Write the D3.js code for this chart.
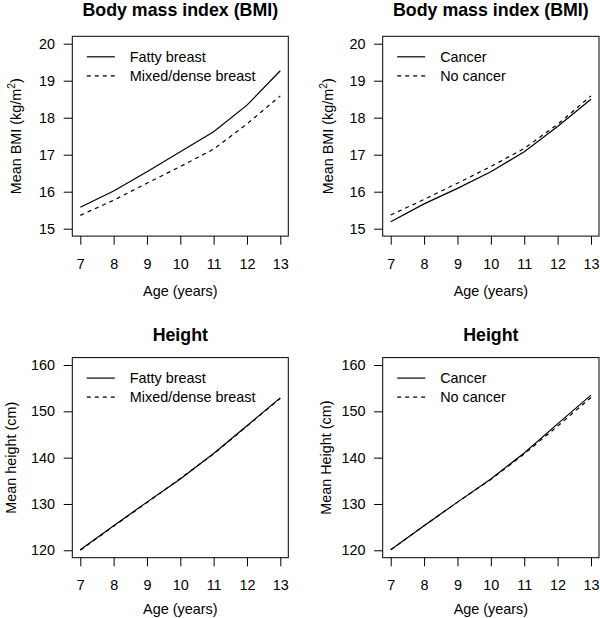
<!DOCTYPE html>
<html><head><meta charset="utf-8">
<script src="https://cdn.jsdelivr.net/npm/d3@7"></script>
<style>
html,body{margin:0;padding:0;background:#fff;}
svg text{font-family:"Liberation Sans",Arial,Helvetica,sans-serif;fill:#000;}
</style>
</head><body>
<svg id="chart" width="600" height="618"></svg>
<script>
const ages = [7, 8, 9, 10, 11, 12, 13];
const bmiFatty    = [15.58, 16.02, 16.54, 17.08, 17.62, 18.34, 19.27];
const bmiDense    = [15.36, 15.77, 16.23, 16.68, 17.15, 17.83, 18.59];
const bmiCancer   = [15.19, 15.67, 16.09, 16.54, 17.08, 17.76, 18.50];
const bmiNoCancer = [15.37, 15.79, 16.23, 16.68, 17.17, 17.82, 18.59];
const hFatty    = [120.1, 125.3, 130.4, 135.4, 140.9, 146.9, 152.9];
const hDense    = [120.0, 125.2, 130.3, 135.5, 140.8, 146.8, 152.8];
const hCancer   = [120.1, 125.3, 130.4, 135.4, 141.0, 147.3, 153.5];
const hNoCancer = [120.1, 125.3, 130.4, 135.3, 140.8, 146.8, 153.0];
const bmiTicks = [15, 16, 17, 18, 19, 20];
const heightTicks = [120, 130, 140, 150, 160];
const ageTicks = [7, 8, 9, 10, 11, 12, 13];

const svg = d3.select("#chart");
const FONT = 14.4, TITLE = 17.8;

const panels = [
  {title:"Body mass index (BMI)", ylab:"bmi", x0:72.3, x1:288.3, y0:36.3, y1:236.1,
   ydom:[14.8,20.2], yticks:bmiTicks, names:["Fatty breast","Mixed/dense breast"],
   series:[bmiFatty,bmiDense], titleY:15.5, xlabY:296, ylabX:21},
  {title:"Body mass index (BMI)", ylab:"bmi", x0:382.7, x1:599, y0:36.3, y1:236.1,
   ydom:[14.8,20.2], yticks:bmiTicks, names:["Cancer","No cancer"],
   series:[bmiCancer,bmiNoCancer], titleY:15.5, xlabY:296, ylabX:333},
  {title:"Height", ylab:"Mean height (cm)", x0:72.3, x1:288.3, y0:357.6, y1:557.7,
   ydom:[118.4,161.6], yticks:heightTicks, names:["Fatty breast","Mixed/dense breast"],
   series:[hFatty,hDense], titleY:340.7, xlabY:613.5, ylabX:16},
  {title:"Height", ylab:"Mean Height (cm)", x0:382.7, x1:599, y0:357.6, y1:557.7,
   ydom:[118.4,161.6], yticks:heightTicks, names:["Cancer","No cancer"],
   series:[hCancer,hNoCancer], titleY:340.7, xlabY:613.5, ylabX:330.5}
];

const dashes = [null, "4,4"];
const TICK = 8.6;

panels.forEach(p => {
  const x = d3.scaleLinear().domain([6.76, 13.24]).range([p.x0, p.x1]);
  const y = d3.scaleLinear().domain(p.ydom).range([p.y1, p.y0]);
  const g = svg.append("g");

  const line = d3.line().x((d,i) => x(ages[i])).y(d => y(d));
  p.series.forEach((s, k) => {
    g.append("path").attr("d", line(s)).attr("fill","none")
      .attr("stroke","#000").attr("stroke-width",1.2)
      .attr("stroke-dasharray", dashes[k]);
  });

  g.append("rect").attr("x",p.x0).attr("y",p.y0)
    .attr("width",p.x1-p.x0).attr("height",p.y1-p.y0)
    .attr("fill","none").attr("stroke","#000").attr("stroke-width",1);

  const xa = g.append("g").attr("transform",`translate(0,${p.y1})`)
    .call(d3.axisBottom(x).tickValues(ageTicks).tickSize(TICK).tickPadding(10).tickFormat(d3.format("d")));
  xa.select(".domain").remove();
  xa.selectAll("line").attr("stroke","#000");
  xa.selectAll("text").attr("font-size",FONT).attr("font-family",null).attr("dy",null).attr("y", 32.5);

  const ya = g.append("g").attr("transform",`translate(${p.x0},0)`)
    .call(d3.axisLeft(y).tickValues(p.yticks).tickSize(TICK).tickPadding(8.7).tickFormat(d3.format("d")));
  ya.select(".domain").remove();
  ya.selectAll("line").attr("stroke","#000");
  ya.selectAll("text").attr("font-size",FONT).attr("font-family",null);

  g.append("text").attr("x",(p.x0+p.x1)/2).attr("y",p.titleY)
    .attr("text-anchor","middle").attr("font-weight","bold").attr("font-size",TITLE)
    .text(p.title);

  g.append("text").attr("x",(p.x0+p.x1)/2).attr("y",p.xlabY)
    .attr("text-anchor","middle").attr("font-size",FONT).text("Age (years)");

  const cy = (p.y0+p.y1)/2;
  const yl = g.append("text").attr("transform",`translate(${p.ylabX},${cy}) rotate(-90)`)
    .attr("text-anchor","middle").attr("font-size",FONT);
  if (p.ylab === "bmi") {
    yl.append("tspan").text("Mean BMI (kg/m");
    yl.append("tspan").attr("dy",-6).attr("font-size",FONT*0.72).text("2");
    yl.append("tspan").attr("dy",6).text(")");
  } else {
    yl.text(p.ylab);
  }

  const ly = [p.y0+20.5, p.y0+39.5];
  p.names.forEach((n,k) => {
    g.append("line").attr("x1",p.x0+14.5).attr("x2",p.x0+42.5)
      .attr("y1",ly[k]).attr("y2",ly[k]).attr("stroke","#000").attr("stroke-width",1.2)
      .attr("stroke-dasharray",dashes[k]);
    g.append("text").attr("x",p.x0+57.5).attr("y",ly[k]).attr("dy","0.35em")
      .attr("font-size",FONT).text(n);
  });
});
</script>
</body></html>
